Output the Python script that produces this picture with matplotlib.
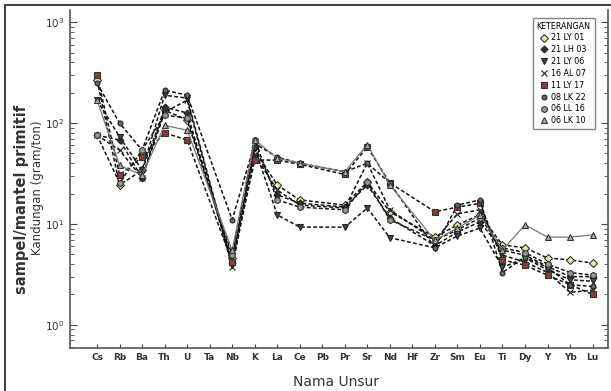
import numpy as np
import matplotlib
matplotlib.use('Agg')
import matplotlib.pyplot as plt
from matplotlib.patches import Rectangle

# Elements on the x-axis (primitive-mantle normalised spider diagram)
elements = ['Cs', 'Rb', 'Ba', 'Th', 'U', 'Ta', 'Nb', 'K', 'La', 'Ce', 'Pb', 'Pr',
            'Sr', 'Nd', 'Hf', 'Zr', 'Sm', 'Eu', 'Ti', 'Dy', 'Y', 'Yb', 'Lu']

nan = np.nan
# values for each sample (sample / primitive mantle), Ta, Pb, Hf not analysed
s1 = [267, 24.3, 34.2, 134.5, 107, nan, 4.6, 54, 24.3, 17.3, nan, 15.4, 26.1, 13.2, nan, 7.4, 9.8, 12.3, 6.2, 5.8, 4.6, 4.4, 4.1]
s2 = [76, 68, 28.5, 144, 126, nan, 4.1, 58, 19.4, 16.1, nan, 14.7, 24.3, 11.5, nan, 6.1, 8.3, 10.5, 5.5, 4.9, 3.8, 3.0, 3.0]
s3 = [169, 73, 34.2, 189, 177, nan, 3.9, 57, 12.3, 9.3, nan, 9.3, 14.4, 7.3, nan, 5.8, 7.6, 9.1, 3.7, 4.6, 3.5, 2.8, 2.7]
s4 = [76, 54, 28.5, 128, 169, nan, 3.7, 48, 21.7, 15.4, nan, 14.4, 40.2, 13.8, nan, 6.9, 12.6, 13.8, 4.9, 4.2, 3.3, 2.1, 2.2]
s5 = [299, 30.6, 46, 80, 68, nan, 4.2, 43, 43, 39, nan, 31, 58, 25.5, nan, 13.2, 14.7, 16, 4.4, 3.9, 3.1, 2.5, 2.0]
s6 = [249, 100, 54, 212, 189, nan, 11, 63, 46, 40, nan, 33, 40, 25.5, nan, 5.8, 15.4, 17.3, 3.3, 4.7, 3.7, 2.5, 2.4]
s7 = [76, 25.5, 54, 120, 112, nan, 4.9, 68, 17.3, 14.7, nan, 13.8, 26, 11, nan, 6.9, 8.7, 11.5, 5.8, 5.2, 4.0, 3.3, 3.1]
s8 = [169, 38, 30.6, 95, 85, nan, 5.5, 68, 45, 40, nan, 33, 61, 24.3, nan, 6.9, 9.1, 12.3, 5.5, 9.8, 7.4, 7.4, 7.8]

samples = ['21 LY 01', '21 LH 03', '21 LY 06', '16 AL 07',
           '11 LY 17', '08 LK 22', '06 LL 16', '06 LK 10']
series = [s1, s2, s3, s4, s5, s6, s7, s8]

# marker style per sample
styles = [
    dict(marker='D', mfc='#ece6a8', mec='#333', ms=4),
    dict(marker='D', mfc='#333', mec='#222', ms=3.5),
    dict(marker='v', mfc='#444', mec='#222', ms=4.5),
    dict(marker='x', mfc='none', mec='#222', ms=4.5),
    dict(marker='s', mfc='#8a3b3b', mec='#333', ms=4.5),
    dict(marker='o', mfc='#666', mec='#222', ms=3.5),
    dict(marker='h', mfc='#999', mec='#333', ms=4.5),
    dict(marker='^', mfc='#aaa', mec='#333', ms=4.5),
]

fig = plt.figure(figsize=(6.11, 3.91), dpi=100)
ax = fig.add_axes([0.1146, 0.110, 0.881, 0.864])

x = np.arange(len(elements))
for vals, lab, st in zip(series, samples, styles):
    y = np.array(vals, dtype=float)
    ok = ~np.isnan(y)
    if lab == samples[-1]:
        ax.plot(x[ok], y[ok], ls='-', color='#777', lw=0.9, label=lab, mew=0.8, **st)
    else:
        ax.plot(x[ok], y[ok], ls=(0, (2.5, 1.5)), color='#111', lw=1.1, label=lab, mew=0.8, **st)

ax.set_yscale('log')
ax.set_ylim(10 ** -0.23, 10 ** 3.12)
ax.set_xlim(-1.2, 22.7)
ax.set_yticks([1, 10, 100, 1000])
ax.set_yticklabels(['$10^0$', '$10^1$', '$10^2$', '$10^3$'], fontsize=7.5, color='#333')
ax.set_xticks(x)
ax.set_xticklabels(elements, fontsize=6.5, color='#333', fontweight='bold')
ax.tick_params(axis='both', which='both', direction='in', color='#444')
ax.tick_params(axis='y', which='major', length=5, right=True, pad=4)
ax.tick_params(axis='y', which='minor', length=3, right=True)
ax.tick_params(axis='x', length=3)
ax.spines['top'].set_visible(False)
for s in ['left', 'bottom', 'right']:
    ax.spines[s].set_color('#555')
    ax.spines[s].set_linewidth(1.2)

fig.text(0.036, 0.49, 'sampel/mantel primitif', rotation=90, ha='center', va='center',
         fontsize=10.5, fontweight='bold', color='#333')
fig.text(0.062, 0.52, 'Kandungan (gram/ton)', rotation=90, ha='center', va='center',
         fontsize=8.5, color='#333')
fig.text(0.55, 0.022, 'Nama Unsur', ha='center', va='center', fontsize=10, color='#333')

leg = ax.legend(title='KETERANGAN', loc='upper right', bbox_to_anchor=(0.982, 0.99),
                fontsize=5.8, title_fontsize=5.8, frameon=True, fancybox=False,
                edgecolor='#666', handlelength=0.8, handletextpad=0.4,
                labelspacing=0.35, borderpad=0.5)
for h in leg.legend_handles:
    h.set_linestyle('none')

# outer frame round the figure
fig.patches.append(Rectangle((5 / 611, -0.01), 1.0, 1 - 5 / 391 + 0.01, transform=fig.transFigure,
                             fill=False, edgecolor='#444', lw=1.5))

fig.savefig('out.png', dpi=100)
